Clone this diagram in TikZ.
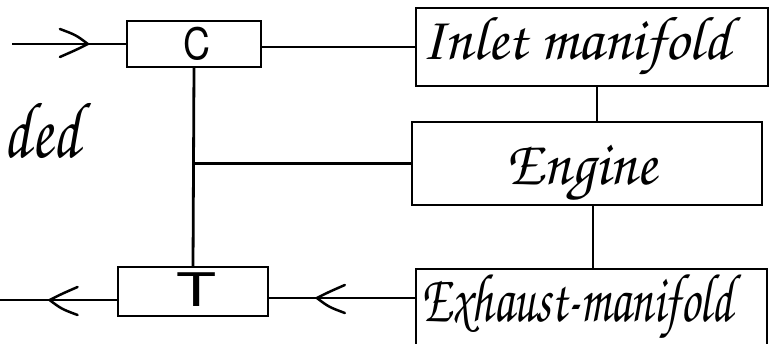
\documentclass[tikz,border=0pt]{standalone}
\usepackage[T1]{fontenc}
\usepackage{graphicx}
\usetikzlibrary{decorations.markings}
\newcommand\handfont{\fontencoding{T1}\fontfamily{pzc}\fontseries{mb}\fontshape{it}\selectfont}
\newcommand\plainfont{\fontencoding{T1}\fontfamily{phv}\fontseries{m}\fontshape{n}\selectfont}
\newcommand\hw[3]{\resizebox*{#1}{#2}{\handfont #3}}
\newcommand\hs[3]{\resizebox*{#1}{#2}{\plainfont #3}}
\begin{document}
\begin{tikzpicture}[x=1pt,y=-1pt,line width=2.8pt,
  box/.style={draw,inner sep=0pt,outer sep=0pt},
  txt/.style={inner sep=0pt,outer sep=0pt},
  chev/.style={postaction={decorate},decoration={markings,
    mark=at position #1 with {\draw[line width=2.5pt,line cap=round,line join=round]
      (-28pt,15pt) .. controls (-12pt,9pt) .. (0pt,0pt) .. controls (-12pt,-6pt) .. (-28pt,-13pt);}}}]
\useasboundingbox (0,0) rectangle (772,344);
% boxes
\node[box,minimum width=134pt,minimum height=46pt] (C) at (194,44) {};
\node[box,minimum width=352pt,minimum height=78pt] (I) at (592,47) {};
\node[box,minimum width=350pt,minimum height=83pt] (E) at (587,163.5) {};
\node[box,minimum width=150pt,minimum height=49pt] (T) at (193,291.5) {};
\node[txt,minimum width=351pt,minimum height=81pt] (X) at (591.5,309.5) {};
\draw (X.south west) -- (X.north west) -- (X.north east) -- (X.south east);
% texts
\node[txt] (Ct) at (197,44) {\hs{27pt}{33pt}{C}};
\node[txt] (Tt) at (197,290) {\hs{40pt}{33pt}{T}};
\node[txt] (It) at (576,47) {\hw{308pt}{63pt}{Inlet manifold}};
\node[txt] (Et) at (582,175) {\hw{150pt}{59pt}{Engine}};
\node[txt] (Xt) at (577,308) {\hw{311pt}{70pt}{Exhaust-manifold}};
\node[txt] (D) at (42,130) {\hw{76pt}{58pt}{ded}};
% connectors
\coordinate (in) at (12,44);
\draw[chev=0.66] (in) -- (C.west);
\draw (I.west) -- (I.west -| C.east);
\draw ([xshift=5pt]I.south) -- ([xshift=5pt]I.south |- E.north);
\draw ([xshift=6pt]E.south) -- ([xshift=6pt]E.south |- X.north);
\draw (C.south) -- (T.north);
\draw (E.west) -- (E.west -| C.south);
\coordinate (te) at ([yshift=-6.5pt]T.east);
\coordinate (xe) at (X.west |- te);
\draw[chev=0.67] (xe) -- (te);
\coordinate (tw) at ([yshift=-8.5pt]T.west);
\coordinate (out) at (0,300);
\draw[chev=0.58] (tw) -- (out);
\end{tikzpicture}
\end{document}
